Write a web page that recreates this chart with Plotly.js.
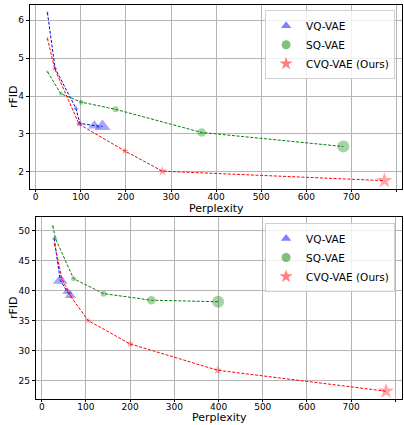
<!DOCTYPE html>
<html>
<head>
<meta charset="utf-8">
<script src="https://cdn.plot.ly/plotly-3.0.1.min.js"></script>
<style>html,body{margin:0;padding:0;background:#fff;}#chart{width:404px;height:425px;}</style>
</head>
<body>
<div id="chart"></div>
<script>
// ---- Data ----
const seriesNames = ["VQ-VAE", "SQ-VAE", "CVQ-VAE (Ours)"];
const xTitle = "Perplexity";
const yTitle = "rFID";
const xTicks = [0, 100, 200, 300, 400, 500, 600, 700, 800];

// Top panel
const topVqX  = [26, 43, 89, 98, 130, 148];
const topVqY  = [6.2, 4.73, 3.68, 3.28, 3.22, 3.2];
const topSqX  = [26, 56, 101, 177, 368, 682];
const topSqY  = [4.64, 4.06, 3.84, 3.65, 3.04, 2.67];
const topCvqX = [26, 42, 96, 198, 281, 773];
const topCvqY = [5.52, 4.72, 3.26, 2.55, 2.02, 1.77];
const topYTicks = [2, 3, 4, 5, 6];

// Bottom panel
const botVqX  = [28, 42, 58, 65];
const botVqY  = [48.7, 41.7, 39.8, 39.2];
const botSqX  = [25, 31, 72, 140, 248, 399];
const botSqY  = [50.8, 48.7, 42.0, 39.5, 38.4, 38.15];
const botCvqX = [29, 46, 66, 105, 200, 398, 779];
const botCvqY = [47.8, 41.9, 39.0, 35.0, 31.1, 26.7, 23.2];
const botYTicks = [25, 30, 35, 40, 45, 50];

// ---- Styling ----
const topVqSize  = [3, 4, 5, 6, 11, 14];
const topSqSize  = [2.5, 4, 5, 6, 8.5, 12];
const topCvqSize = [3, 4, 5, 6, 7.5, 12];
const botVqSize  = [4, 13, 9, 10];
const botSqSize  = [2.5, 3.5, 5, 6, 8.5, 12];
const botCvqSize = [3, 3.5, 4, 5, 6, 7, 12];
const legendSize = [9, 9, 10];

const lineCol = ["#0000ff", "#008000", "#ff0000"];
const markCol = ["rgba(0,0,255,0.5)", "rgba(0,128,0,0.5)", "rgba(255,0,0,0.5)"];
const symbols = ["triangle-up", "circle", "star"];

function makeTraces(xs, ys, sizes, idx, xa, ya, legendId) {
  return [
    {x: xs, y: ys, xaxis: xa, yaxis: ya, mode: "lines", showlegend: false,
     line: {color: lineCol[idx], width: 1, dash: "3px,1.6px"}, hoverinfo: "skip"},
    {x: xs, y: ys, xaxis: xa, yaxis: ya, mode: "markers", showlegend: false,
     marker: {symbol: symbols[idx], size: sizes, color: markCol[idx], line: {width: 0}}},
    {x: [null], y: [null], xaxis: xa, yaxis: ya, mode: "markers", name: seriesNames[idx],
     legend: legendId, showlegend: true,
     marker: {symbol: symbols[idx], size: legendSize[idx], color: markCol[idx], line: {width: 0}}}
  ];
}

const data = [].concat(
  makeTraces(topVqX, topVqY, topVqSize, 0, "x", "y", "legend"),
  makeTraces(topSqX, topSqY, topSqSize, 1, "x", "y", "legend"),
  makeTraces(topCvqX, topCvqY, topCvqSize, 2, "x", "y", "legend"),
  makeTraces(botVqX, botVqY, botVqSize, 0, "x2", "y2", "legend2"),
  makeTraces(botSqX, botSqY, botSqSize, 1, "x2", "y2", "legend2"),
  makeTraces(botCvqX, botCvqY, botCvqSize, 2, "x2", "y2", "legend2")
);

const tickFont = {family: "DejaVu Sans", size: 9, color: "#000"};
const titleFont = {family: "DejaVu Sans", size: 11, color: "#000"};
function xAxis(domain, range, anchor) {
  return {domain: domain, range: range, anchor: anchor, tickvals: xTicks,
    showgrid: true, gridcolor: "#b5b5b5", gridwidth: 1, zeroline: false,
    showline: true, mirror: true, linecolor: "#000", linewidth: 1.2,
    ticks: "outside", ticklen: 2, tickcolor: "#000", tickfont: tickFont,
    ticklabelstandoff: -3};
}
function yAxis(domain, range, tickvals, anchor) {
  return {domain: domain, range: range, anchor: anchor, tickvals: tickvals,
    showgrid: true, gridcolor: "#b5b5b5", gridwidth: 1, zeroline: false,
    showline: true, mirror: true, linecolor: "#000", linewidth: 1.2,
    ticks: "outside", ticklen: 3, tickcolor: "#000", tickfont: tickFont};
}
function legendCfg(y) {
  return {x: 0.978, y: y, xanchor: "right", yanchor: "top",
    bgcolor: "rgba(255,255,255,0.8)", bordercolor: "#d0d0d0", borderwidth: 1,
    font: {family: "DejaVu Sans", size: 10.5, color: "#000"}, itemwidth: 30};
}
function titleAnn(text, x, y, angle) {
  return {text: text, xref: "paper", yref: "paper", x: x, y: y,
    xanchor: "center", yanchor: "middle", showarrow: false, textangle: angle,
    font: titleFont};
}

const layout = {
  width: 404, height: 425,
  margin: {l: 0, r: 0, t: 0, b: 0},
  paper_bgcolor: "#fff", plot_bgcolor: "#fff",
  xaxis: xAxis([0.0743, 0.995], [-12.6, 812], "y"),
  yaxis: yAxis([0.5553, 0.9882], [1.55, 6.40], topYTicks, "x"),
  xaxis2: xAxis([0.0891, 0.995], [-13, 815], "y2"),
  yaxis2: yAxis([0.0612, 0.4894], [21.9, 52.3], botYTicks, "x2"),
  legend: legendCfg(0.976),
  legend2: legendCfg(0.4753),
  annotations: [
    titleAnn(xTitle, 0.5347, 0.5100, 0),
    titleAnn(xTitle, 0.5421, 0.0185, 0),
    titleAnn(yTitle, 0.0347, 0.7718, -90),
    titleAnn(yTitle, 0.0347, 0.2753, -90)
  ],
  showlegend: true
};

Plotly.newPlot("chart", data, layout, {displayModeBar: false, staticPlot: true});
</script>
</body>
</html>
